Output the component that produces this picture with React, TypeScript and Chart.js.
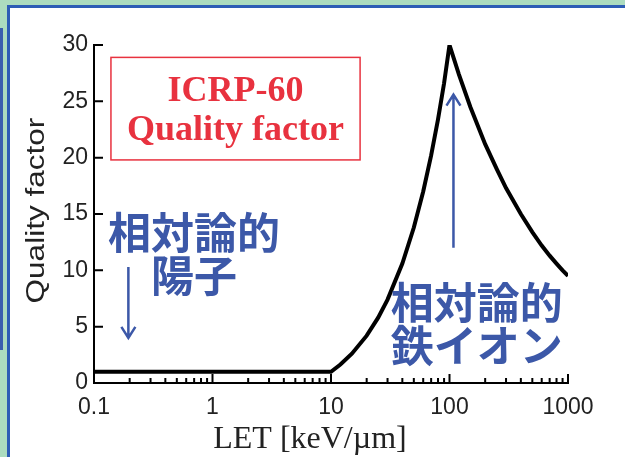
import React, { useEffect, useRef } from "react";
import { Chart, registerables } from "chart.js";

Chart.register(...registerables);

// LET values (keV/µm) and quality factor
const letValues = [0.1, 10, 12, 15, 20, 25, 30, 40, 50, 60, 70, 80, 90, 100, 120, 150, 200, 250, 300, 400, 500, 600, 700, 800, 900, 1000];
const qualityFactor = [1, 1, 1.64, 2.6, 4.2, 5.8, 7.4, 10.6, 13.8, 17.0, 20.2, 23.4, 26.6, 30, 27.4, 24.5, 21.2, 19.0, 17.3, 15.0, 13.4, 12.2, 11.3, 10.6, 10.0, 9.5];

const xTickValues = [0.1, 1, 10, 100, 1000];
const xTickLabels = ["0.1", "1", "10", "100", "1000"];
const yTickValues = [0, 5, 10, 15, 20, 25, 30];
const yTickLabels = ["0", "5", "10", "15", "20", "25", "30"];

const xTitle = "LET [keV/µm]";
const yTitle = "Quality factor";
const boxLines = ["ICRP-60", "Quality factor"];
const protonLines = ["相対論的", "陽子"];
const ironLines = ["相対論的", "鉄イオン"];

const BLUE = "#3c58a8";
const RED = "#e8323f";
const INK = "#222";

const overlayPlugin = {
  id: "overlay",
  afterDraw(chart: any) {
    const { ctx, chartArea } = chart;
    const xs = chart.scales.x;
    const ys = chart.scales.y;
    const X = (v: number) => xs.getPixelForValue(v);
    const Y = (v: number) => ys.getPixelForValue(v);
    ctx.save();
    // inside ticks
    ctx.strokeStyle = "#000";
    ctx.lineWidth = 2;
    ctx.beginPath();
    yTickValues.forEach((v) => {
      const y = Y(v);
      ctx.moveTo(chartArea.left, y);
      ctx.lineTo(chartArea.left + 9, y);
    });
    xTickValues.forEach((d, i) => {
      const x = X(d);
      ctx.moveTo(x, chartArea.bottom);
      ctx.lineTo(x, chartArea.bottom - 9);
      if (i < xTickValues.length - 1) {
        for (let m = 2; m <= 9; m++) {
          const xm = X(d * m);
          ctx.moveTo(xm, chartArea.bottom);
          ctx.lineTo(xm, chartArea.bottom - 5);
        }
      }
    });
    ctx.stroke();

    // axis titles
    ctx.fillStyle = INK;
    ctx.textAlign = "center";
    ctx.textBaseline = "alphabetic";
    ctx.font = "32px 'Liberation Serif'";
    ctx.fillText(xTitle, chartArea.left + 216, chartArea.bottom + 65);

    ctx.save();
    ctx.translate(chartArea.left - 57, Y(15.3));
    ctx.rotate(-Math.PI / 2);
    ctx.scale(1.26, 1);
    ctx.textBaseline = "middle";
    ctx.font = "25px 'Liberation Sans'";
    ctx.fillText(yTitle, 0, 0);
    ctx.restore();

    // red box
    const bx1 = X(0.139), bx2 = X(17.6);
    const by1 = Y(28.9), by2 = Y(19.8);
    ctx.strokeStyle = RED;
    ctx.lineWidth = 1.5;
    ctx.strokeRect(bx1, by1, bx2 - bx1, by2 - by1);
    ctx.fillStyle = RED;
    ctx.textAlign = "center";
    ctx.textBaseline = "alphabetic";
    ctx.font = "bold 36px 'Liberation Serif'";
    const bcx = (bx1 + bx2) / 2;
    ctx.fillText(boxLines[0], bcx, by1 + 44);
    ctx.fillText(boxLines[1], bcx, by1 + 83);

    // Japanese labels
    ctx.fillStyle = BLUE;
    ctx.font = "bold 43px 'Noto Sans CJK JP'";
    ctx.textBaseline = "middle";
    const pcx = X(0.698);
    ctx.fillText(protonLines[0], pcx, Y(13.3));
    ctx.fillText(protonLines[1], pcx, Y(9.5));
    const icx = X(170);
    ctx.fillText(ironLines[0], icx, Y(7.1));
    ctx.fillText(ironLines[1], icx, Y(3.3));

    // arrows
    const arrow = (x: number, y1: number, y2: number) => {
      const dir = y2 > y1 ? 1 : -1;
      ctx.strokeStyle = BLUE;
      ctx.lineWidth = 2.5;
      ctx.beginPath();
      ctx.moveTo(x, y1);
      ctx.lineTo(x, y2);
      ctx.moveTo(x - 7, y2 - dir * 11);
      ctx.lineTo(x, y2);
      ctx.lineTo(x + 7, y2 - dir * 11);
      ctx.stroke();
    };
    arrow(X(0.195), Y(10.3), Y(4.0));
    arrow(X(108), Y(12.0), Y(25.6));
    ctx.restore();
  },
};

export default function App() {
  const ref = useRef<HTMLCanvasElement>(null);
  useEffect(() => {
    if (!ref.current) return;
    const chart = new Chart(ref.current, {
      type: "line",
      data: {
        datasets: [
          {
            data: letValues.map((x, i) => ({ x, y: qualityFactor[i] })),
            borderColor: "#000",
            borderWidth: 4,
            pointRadius: 0,
            tension: 0,
            borderJoinStyle: "miter",
            fill: false,
          },
        ],
      },
      options: {
        responsive: false,
        animation: false,
        layout: { padding: { left: 0, top: 45, right: 57, bottom: 0 } },
        plugins: { legend: { display: false }, tooltip: { enabled: false } },
        scales: {
          x: {
            type: "logarithmic",
            min: 0.1,
            max: 1000,
            afterBuildTicks: (s: any) => {
              s.ticks = xTickValues.map((v) => ({ value: v }));
            },
            afterFit: (s: any) => {
              s.height = 74;
            },
            grid: { display: false, drawTicks: false, tickLength: 0 },
            border: { display: true, color: "#000", width: 2 },
            ticks: {
              callback: (_v: any, i: number) => xTickLabels[i],
              font: { family: "'Liberation Sans'", size: 23 },
              color: INK,
              padding: 11,
              maxRotation: 0,
              autoSkip: false,
            },
            title: { display: false },
          },
          y: {
            min: 0,
            max: 30,
            afterBuildTicks: (s: any) => {
              s.ticks = yTickValues.map((v) => ({ value: v }));
            },
            afterFit: (s: any) => {
              s.width = 94;
            },
            grid: { display: false, drawTicks: false, tickLength: 0 },
            border: { display: true, color: "#000", width: 2 },
            ticks: {
              callback: (_v: any, i: number) => yTickLabels[i],
              font: { family: "'Liberation Sans'", size: 23 },
              color: INK,
              padding: 6,
              autoSkip: false,
            },
            title: { display: false },
          },
        },
      },
      plugins: [overlayPlugin],
    } as any);
    return () => chart.destroy();
  }, []);

  return (
    <div
      style={{
        position: "fixed",
        left: 0,
        top: 0,
        width: 625,
        height: 457,
        overflow: "hidden",
        background: "#acdcbf",
      }}
    >
      <div
        style={{
          position: "absolute",
          left: 0,
          top: 28,
          width: 3,
          height: 322,
          background: "#3a5fae",
        }}
      />
      <div
        style={{
          position: "absolute",
          left: 7,
          top: 5,
          width: 640,
          height: 470,
          boxSizing: "border-box",
          border: "3px solid #2d5db5",
          background: "#fff",
        }}
      />
      <canvas
        ref={ref}
        width={625}
        height={457}
        style={{ position: "absolute", left: 0, top: 0 }}
      />
    </div>
  );
}
